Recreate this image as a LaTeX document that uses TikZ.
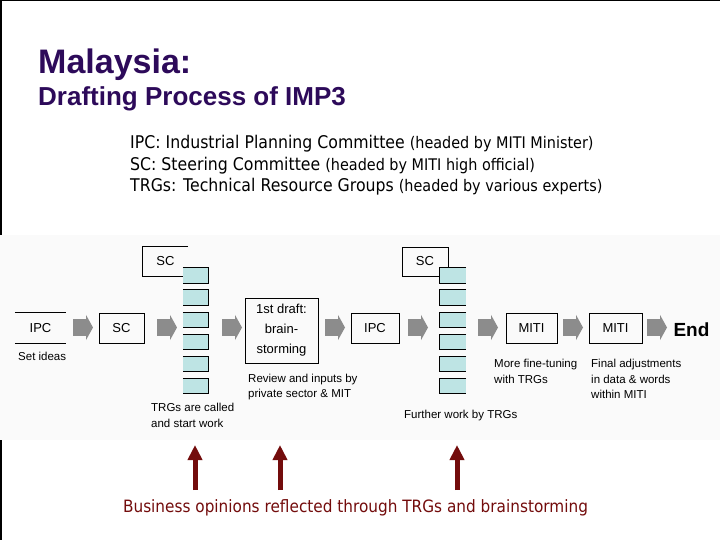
\documentclass[tikz,border=0pt]{standalone}
\usepackage{fontspec}
\setmainfont{Liberation Sans}
\newfontfamily\legendfont[FakeStretch=0.9]{DejaVu Sans}
\usetikzlibrary{arrows.meta}
\definecolor{titlepurple}{RGB}{45,10,90}
\definecolor{maroonred}{RGB}{115,12,12}
\definecolor{trgfill}{RGB}{190,228,228}
\definecolor{arrowgray}{RGB}{140,140,140}
\definecolor{panelbg}{RGB}{250,250,250}
\tikzset{
  edge/.style={draw=black, line width=0.9bp},
  box/.style={draw=black, line width=0.9bp, minimum height=30bp, inner sep=0pt, font=\fontsize{13bp}{15bp}\selectfont},
  openbox/.style={draw=none, minimum height=30bp, inner sep=0pt, font=\fontsize{13bp}{15bp}\selectfont},
  trgbox/.style={fill=trgfill, draw=none, minimum height=15bp, inner sep=0pt},
  lbl/.style={anchor=base west, inner sep=0pt, font=\fontsize{11.5bp}{13bp}\selectfont},
  legend/.style={anchor=base west, inner sep=0pt},
  blockarrow/.style={draw=arrowgray, line width=17bp, -{Triangle[width=25bp,length=7bp]}},
  bizarrow/.style={draw=maroonred, line width=5bp, -{Triangle[width=14bp,length=15bp]}}
}
\newcommand{\bigleg}{\legendfont\fontsize{17.5bp}{20bp}\selectfont}
\newcommand{\smallleg}{\fontsize{16bp}{20bp}\selectfont}
\begin{document}
\begin{tikzpicture}[x=1bp,y=-1bp]
\useasboundingbox (0,0) rectangle (720,540);
% frame and panel
\fill[panelbg] (0,235) rectangle (720,440);
\draw[black, line width=1.5bp] (0.75,235) -- (0.75,0.75) -- (720,0.75);
\draw[black, line width=1.5bp] (0.75,440) -- (0.75,540);
% title
\node[anchor=base west, inner sep=0pt, text=titlepurple, font=\bfseries\fontsize{34bp}{36bp}\selectfont] (title) at (38,74) {Malaysia:};
\node[anchor=base west, inner sep=0pt, text=titlepurple, font=\bfseries\fontsize{26bp}{28bp}\selectfont] (subtitle) at (38,106) {Drafting Process of IMP3};
% legend
\node[legend] (leg1) at (130,149) {\bigleg IPC: Industrial Planning Committee {\smallleg (headed by MITI Minister)}};
\node[legend] (leg2) at (130,170.5) {\bigleg SC: Steering Committee {\smallleg (headed by MITI high official)}};
\node[legend] (leg3) at (130,192) {\bigleg TRGs: Technical Resource Groups {\smallleg (headed by various experts)}};
% boxes
\node[openbox, minimum width=51bp] (ipc1) at (40.5,328) {IPC};
\draw[edge] (ipc1.north west) -- (ipc1.north east) (ipc1.south west) -- (ipc1.south east);
\node[box, minimum width=45bp] (sc1) at (121.5,328) {SC};
\node[openbox, minimum width=45bp, minimum height=29bp] (scA) at (165.5,261.5) {SC};
\draw[edge] (scA.north east) -- (scA.north west) -- (scA.south west) -- (scA.south east);
\foreach \k in {0,...,5}{
  \node[trgbox, minimum width=25bp] (trgL\k) at (195.5,275.5+22.1*\k) {};
  \draw[edge] (trgL\k.north west) -- (trgL\k.north east) -- (trgL\k.south east) -- (trgL\k.south west);
}
\node[box, minimum width=73bp, minimum height=65bp, align=center, font=\fontsize{13bp}{20bp}\selectfont] (draft) at (281.5,330.5) {1st draft:\\brain-\\storming};
\node[box, minimum width=48bp] (ipc2) at (375,328) {IPC};
\node[box, minimum width=46bp, minimum height=29bp] (scB) at (425,261.5) {SC};
\foreach \k in {0,...,5}{
  \node[trgbox, minimum width=26bp] (trgR\k) at (453,275.5+22.1*\k) {};
  \draw[edge] (trgR\k.north east) -- (trgR\k.north west) -- (trgR\k.south west) -- (trgR\k.south east);
}
\node[box, minimum width=51bp] (miti1) at (531.5,328) {MITI};
\node[box, minimum width=53bp] (miti2) at (615.5,328) {MITI};
\node[inner sep=0pt, font=\bfseries\fontsize{19bp}{21bp}\selectfont] (end) at (691.5,330) {End};
% block arrows
\coordinate (a1s) at (73,327.5);  \coordinate (a1e) at (93,327.5);
\coordinate (a2s) at (157,327.5); \coordinate (a2e) at (177,327.5);
\coordinate (a3s) at (222,327.5); \coordinate (a3e) at (242,327.5);
\coordinate (a4s) at (325,327.5); \coordinate (a4e) at (345,327.5);
\coordinate (a5s) at (408,327.5); \coordinate (a5e) at (428,327.5);
\coordinate (a6s) at (478,327.5); \coordinate (a6e) at (498,327.5);
\coordinate (a7s) at (563,327.5); \coordinate (a7e) at (583,327.5);
\coordinate (a8s) at (647,327.5); \coordinate (a8e) at (667,327.5);
\foreach \i in {1,...,8}{ \draw[blockarrow] (a\i s) -- (a\i e); }
% labels
\node[lbl] (l1) at (18,360) {Set ideas};
\node[lbl] (l2a) at (151,411) {TRGs are called};
\node[lbl] (l2b) at (151,427) {and start work};
\node[lbl] (l3a) at (248,382) {Review and inputs by};
\node[lbl] (l3b) at (248,397) {private sector \& MIT};
\node[lbl] (l4) at (404,418) {Further work by TRGs};
\node[lbl] (l5a) at (494,367) {More fine-tuning};
\node[lbl] (l5b) at (494,383) {with TRGs};
\node[lbl] (l6a) at (591,367) {Final adjustments};
\node[lbl] (l6b) at (591,383) {in data \& words};
\node[lbl] (l6c) at (591,398) {within MITI};
% bottom
\node[anchor=base, inner sep=0pt, text=maroonred] (biz) at (355.5,512) {\legendfont\fontsize{17bp}{20bp}\selectfont Business opinions reflected through TRGs and brainstorming};
\coordinate (b1) at (195,490); \coordinate (t1) at (195,445);
\coordinate (b2) at (280,490); \coordinate (t2) at (280,445);
\coordinate (b3) at (457,490); \coordinate (t3) at (457,445);
\draw[bizarrow] (b1) -- (t1);
\draw[bizarrow] (b2) -- (t2);
\draw[bizarrow] (b3) -- (t3);
\end{tikzpicture}
\end{document}
